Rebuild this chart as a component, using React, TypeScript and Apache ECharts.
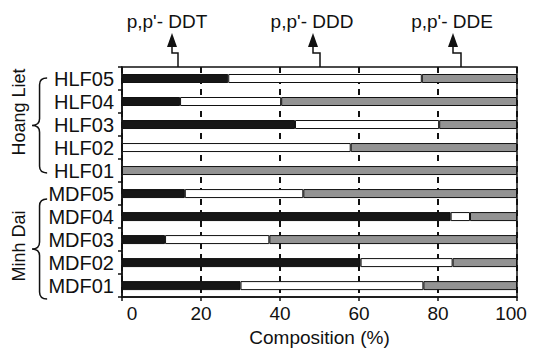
import React, { useEffect, useRef } from "react";
import * as echarts from "echarts";

const samples = ["HLF05", "HLF04", "HLF03", "HLF02", "HLF01", "MDF05", "MDF04", "MDF03", "MDF02", "MDF01"];
const ddt = [26.9, 14.7, 43.8, 0, 0, 15.9, 83.2, 10.9, 60.4, 30.0];
const ddd = [49.0, 25.6, 36.5, 57.9, 0, 30.0, 4.9, 26.4, 23.3, 46.3];
const dde = [24.1, 59.7, 19.7, 42.1, 100, 54.1, 11.9, 62.7, 16.3, 23.7];
const seriesNames = ["p,p'- DDT", "p,p'- DDD", "p,p'- DDE"];
const xTicks = [0, 20, 40, 60, 80, 100];
const groups = ["Hoang Liet", "Minh Dai"];

const FONT = "'Liberation Sans', Arial, sans-serif";
const INK = "#111";

const bracePath = "M14,0 Q7,0 7,7 L7,43 Q7,50 0,50 Q7,50 7,57 L7,93 Q7,100 14,100";
try {
  echarts.graphic.registerShape("brace", echarts.graphic.extendPath(bracePath, {}) as any);
} catch (e) {}

export default function App() {
  const ref = useRef<HTMLDivElement>(null);
  useEffect(() => {
    if (!ref.current) return;
    const chart = echarts.init(ref.current, undefined, { renderer: "svg" });
    const colors = ["#161616", "#ffffff", "#939393"];
    const datas = [ddt, ddd, dde];

    const arrows = [
      { tx: 167, tip: 172, line: 178 },
      { tx: 312, tip: 313, line: 320 },
      { tx: 452, tip: 453, line: 461 },
    ];
    const graphic: any[] = [];
    arrows.forEach((a, i) => {
      graphic.push({
        type: "text",
        x: a.tx,
        y: 21,
        style: { text: seriesNames[i], fill: INK, font: `19px ${FONT}`, textAlign: "center", textVerticalAlign: "middle" },
      });
      graphic.push({
        type: "polygon",
        shape: { points: [[a.tip, 33], [a.tip - 5, 47], [a.tip + 5, 47]] },
        style: { fill: INK },
      });
      graphic.push({
        type: "polyline",
        shape: { points: [[a.tip, 46], [a.tip, 53], [a.line, 53], [a.line, 67]] },
        style: { stroke: INK, lineWidth: 1.5, fill: null },
      });
    });
    graphic.push({ type: "brace", x: 32, y: 78, scaleX: 1.08, scaleY: 0.95, style: { stroke: INK, lineWidth: 1.4, fill: null } });
    graphic.push({ type: "brace", x: 32, y: 199, scaleX: 1.08, scaleY: 1.0, style: { stroke: INK, lineWidth: 1.4, fill: null } });
    graphic.push({
      type: "text", x: 19, y: 112, rotation: Math.PI / 2,
      style: { text: groups[0], fill: INK, font: `18px ${FONT}`, textAlign: "center", textVerticalAlign: "middle" },
    });
    graphic.push({
      type: "text", x: 19, y: 246, rotation: Math.PI / 2,
      style: { text: groups[1], fill: INK, font: `18px ${FONT}`, textAlign: "center", textVerticalAlign: "middle" },
    });

    chart.setOption({
      animation: false,
      backgroundColor: "#fff",
      grid: { left: 122, right: 17, top: 67, bottom: 47, show: true, borderColor: INK, borderWidth: 1.5, backgroundColor: "transparent" },
      xAxis: {
        type: "value", min: 0, max: 100, interval: 20,
        axisLine: { show: true, lineStyle: { color: INK, width: 1.5 } },
        axisTick: { show: true, length: 4, lineStyle: { color: INK, width: 1.5 } },
        splitLine: { show: true, lineStyle: { color: INK, width: 2, type: [6, 5] } },
        axisLabel: {
          color: INK, fontSize: 19, fontFamily: FONT, margin: 7,
          formatter: (v: number) => (v === xTicks[0] ? "{z|" + v + "}" : v === xTicks[5] ? "{h|" + v + "}" : String(v)),
          rich: {
            z: { padding: [0, 0, 0, 20], fontSize: 19, fontFamily: FONT, color: INK },
            h: { padding: [0, 12, 0, 0], fontSize: 19, fontFamily: FONT, color: INK },
          },
        },
        name: "Composition (%)", nameLocation: "middle", nameGap: 24,
        nameTextStyle: { color: INK, fontSize: 19, fontFamily: FONT },
      },
      yAxis: {
        type: "category", data: samples, inverse: true,
        axisLine: { show: true, lineStyle: { color: INK, width: 1.5 } },
        axisTick: { show: true, length: 4, interval: 0, lineStyle: { color: INK, width: 1.5 } },
        axisLabel: { color: INK, fontSize: 20, fontFamily: FONT, margin: 8, interval: 0 },
        splitLine: { show: false },
      },
      series: datas.map((d, i) => ({
        type: "bar", name: seriesNames[i], stack: "total", data: d, barWidth: 9,
        itemStyle: { color: colors[i], borderColor: INK, borderWidth: 1 },
      })),
      graphic,
    });
    return () => chart.dispose();
  }, []);
  return <div ref={ref} style={{ width: 534, height: 352, position: "absolute", left: 0, top: 0 }} />;
}
